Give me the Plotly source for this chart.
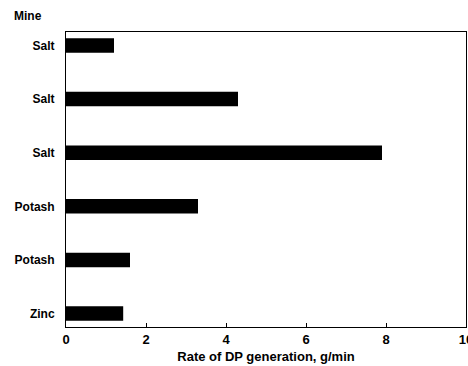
import plotly.graph_objects as go

mines = ["Salt", "Salt", "Salt", "Potash", "Potash", "Zinc"]
rates = [1.2, 4.3, 7.9, 3.3, 1.6, 1.43]
positions = [5, 4, 3, 2, 1, 0]
x_ticks = [0, 2, 4, 6, 8, 10]

fig = go.Figure()
fig.add_trace(go.Bar(
    x=rates, y=positions, orientation="h",
    marker=dict(color="black", line=dict(width=0)),
    width=0.27,
))

font = dict(family="Liberation Sans, Arial, sans-serif", size=12, color="black")
title_font = dict(family="Liberation Sans, Arial, sans-serif", size=13, color="black")

fig.update_layout(
    width=468, height=366,
    margin=dict(l=66, r=2, t=32, b=39, autoexpand=False),
    plot_bgcolor="white", paper_bgcolor="white",
    showlegend=False,
    font=font,
    xaxis=dict(
        range=[0, 10], tickvals=x_ticks,
        ticktext=[f"<b>{v}</b>" for v in x_ticks],
        ticks="inside", ticklen=4, tickcolor="black",
        ticklabeloverflow="allow", tickfont=title_font,
        showline=True, linecolor="black", linewidth=1, mirror=True,
        showgrid=False, zeroline=False, automargin=False,
        title=dict(text="<b>Rate of DP generation, g/min</b>", standoff=6, font=title_font),
    ),
    yaxis=dict(
        range=[-0.25, 5.25], tickvals=positions,
        ticktext=[f"<b>{m}</b>" for m in mines],
        ticks="", ticklabelstandoff=8, automargin=False,
        showline=True, linecolor="black", linewidth=1, mirror=True,
        showgrid=False, zeroline=False,
    ),
    annotations=[dict(
        text="<b>Mine</b>", xref="paper", yref="paper",
        x=-0.135, y=1.0, yshift=16, xanchor="left", yanchor="middle",
        showarrow=False, font=font,
    )],
)

fig.write_html(
    "out.html",
    config={"displayModeBar": False},
    post_script="document.body.style.margin='0';document.body.style.overflow='hidden';",
)
